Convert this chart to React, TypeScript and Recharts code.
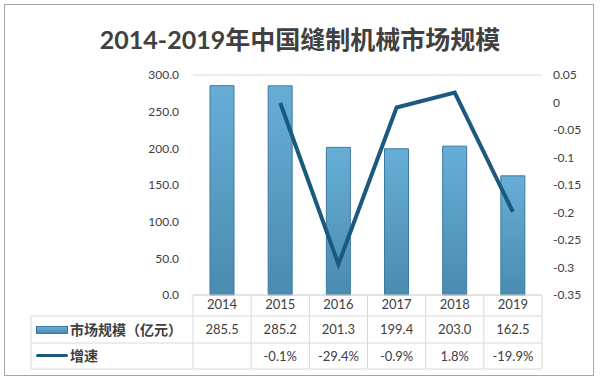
import { ComposedChart, Bar, Line, XAxis, YAxis, CartesianGrid } from 'recharts';

const years = ['2014', '2015', '2016', '2017', '2018', '2019'];
const marketSize = [285.5, 285.2, 201.3, 199.4, 203.0, 162.5];
const growth: (number | null)[] = [null, -0.001, -0.294, -0.009, 0.018, -0.199];
const growthLabels = ['', '-0.1%', '-29.4%', '-0.9%', '1.8%', '-19.9%'];
const leftTicks = [0, 50, 100, 150, 200, 250, 300];
const rightTicks = [0.05, 0, -0.05, -0.1, -0.15, -0.2, -0.25, -0.3, -0.35];

const data = years.map((y, i) => ({ year: y, size: marketSize[i], growth: growth[i] }));

const FONT = 'Lato, "Noto Sans CJK SC", sans-serif';
const TEXT = '#404040';
const GRID = '#d9d9d9';
const LINE = '#1b5a7e';

const plotLeft = 193;
const plotRight = 542;
const bandW = (plotRight - plotLeft) / years.length;
const rowTop = [295, 316, 343];
const rowBottom = 369;
const tableLeft = 31;

export default function App() {
  const cell = (left: number, top: number, w: number, h: number, text: string, key: string) => (
    <div
      key={key}
      style={{
        position: 'absolute', left, top, width: w, height: h, lineHeight: h + 'px',
        textAlign: 'center', fontSize: 13, color: TEXT, fontFamily: FONT,
      }}
    >
      {text}
    </div>
  );

  return (
    <div style={{ position: 'absolute', left: 0, top: 0, width: 600, height: 380, background: '#fff' }}>
      <div style={{ position: 'absolute', left: 4, top: 4, width: 590, height: 372, border: '1px solid #a6a6a6', boxSizing: 'border-box' }} />
      <div
        style={{
          position: 'absolute', left: 0, top: 20, width: 600, textAlign: 'center',
          fontSize: 25, fontWeight: 'bold', color: TEXT, fontFamily: FONT,
        }}
      >
        2014-2019年中国缝制机械市场规模
      </div>
      <div style={{ position: 'absolute', left: 0, top: 0 }}>
        <ComposedChart width={600} height={380} data={data} margin={{ top: 75, right: 0, bottom: 64, left: 0 }}>
          <defs>
            <linearGradient id="barFill" x1="0" y1="0" x2="0" y2="1">
              <stop offset="0%" stopColor="#67aed6" />
              <stop offset="100%" stopColor="#4a8bb0" />
            </linearGradient>
          </defs>
          <CartesianGrid vertical={false} stroke={GRID} />
          <XAxis
            dataKey="year"
            height={21}
            tickLine={false}
            axisLine={{ stroke: GRID }}
            tickSize={0}
            tickMargin={5}
            tick={{ fill: TEXT, fontSize: 13, fontFamily: FONT }}
          />
          <YAxis
            yAxisId="left"
            width={193}
            domain={[0, 300]}
            ticks={leftTicks}
            tickFormatter={(v: number) => v.toFixed(1)}
            axisLine={false}
            tickLine={false}
            tickSize={0}
            tickMargin={14}
            tick={{ fill: TEXT, fontSize: 12, fontFamily: FONT }}
          />
          <YAxis
            yAxisId="right"
            orientation="right"
            width={58}
            domain={[-0.35, 0.05]}
            ticks={rightTicks}
            tickFormatter={(v: number) => String(v)}
            axisLine={false}
            tickLine={false}
            tickSize={0}
            tickMargin={11}
            tick={{ fill: TEXT, fontSize: 12, fontFamily: FONT, textAnchor: 'start' }}
          />
          <Bar yAxisId="left" dataKey="size" barSize={24} fill="url(#barFill)" stroke="#3d7aa0" strokeWidth={1} isAnimationActive={false} />
          <Line yAxisId="right" dataKey="growth" stroke={LINE} strokeWidth={4} dot={false} isAnimationActive={false} />
        </ComposedChart>
      </div>
      {/* data table under the plot */}
      <svg width={600} height={380} style={{ position: 'absolute', left: 0, top: 0, pointerEvents: 'none' }}>
        <line x1={tableLeft} y1={rowTop[1]} x2={plotRight} y2={rowTop[1]} stroke={GRID} />
        <line x1={tableLeft} y1={rowTop[2]} x2={plotRight} y2={rowTop[2]} stroke={GRID} />
        <line x1={tableLeft} y1={rowBottom} x2={plotRight} y2={rowBottom} stroke={GRID} />
        <line x1={tableLeft} y1={rowTop[1]} x2={tableLeft} y2={rowBottom} stroke={GRID} />
        {years.map((_, i) => (
          <line key={i} x1={plotLeft + i * bandW} y1={rowTop[0]} x2={plotLeft + i * bandW} y2={rowBottom} stroke={GRID} />
        ))}
        <line x1={plotRight} y1={rowTop[0]} x2={plotRight} y2={rowBottom} stroke={GRID} />
      </svg>
      <div style={{ position: 'absolute', left: 36, top: 326, width: 32, height: 8, background: 'linear-gradient(#67aed6, #4a8bb0)', border: '1px solid #3d7aa0', boxSizing: 'border-box' }} />
      <div style={{ position: 'absolute', left: 36, top: 354, width: 32, height: 3, background: LINE, borderRadius: 2 }} />
      <div style={{ position: 'absolute', left: 70, top: rowTop[1], height: rowTop[2] - rowTop[1], lineHeight: rowTop[2] - rowTop[1] + 'px', fontSize: 14, color: TEXT, fontFamily: FONT, fontWeight: 'bold' }}>
        市场规模（亿元）
      </div>
      <div style={{ position: 'absolute', left: 70, top: rowTop[2], height: rowBottom - rowTop[2], lineHeight: rowBottom - rowTop[2] + 'px', fontSize: 14, color: TEXT, fontFamily: FONT, fontWeight: 'bold' }}>
        增速
      </div>
      {marketSize.map((v, i) => cell(plotLeft + i * bandW, rowTop[1], bandW, rowTop[2] - rowTop[1], v.toFixed(1), 's' + i))}
      {growthLabels.map((t, i) => cell(plotLeft + i * bandW, rowTop[2], bandW, rowBottom - rowTop[2], t, 'g' + i))}
    </div>
  );
}
